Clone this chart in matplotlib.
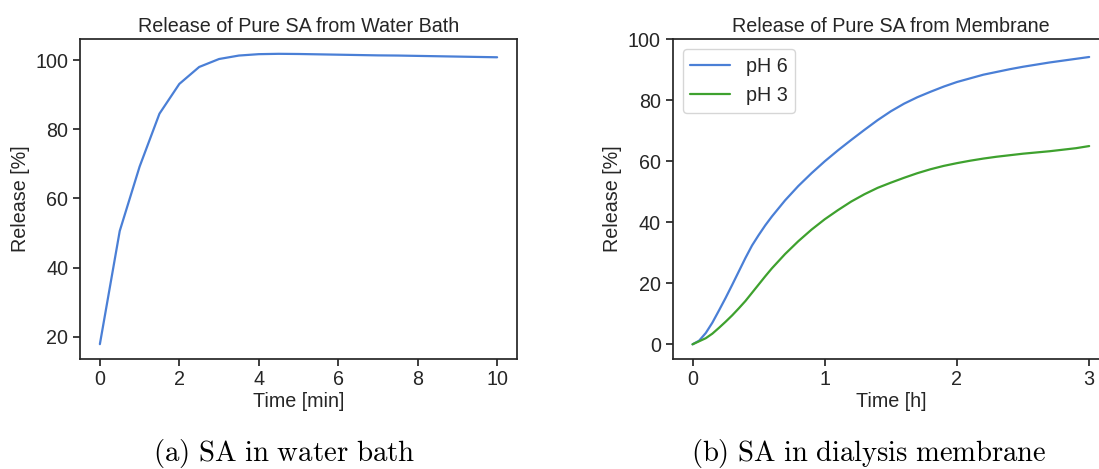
import matplotlib
matplotlib.use('Agg')
import matplotlib.pyplot as plt
import seaborn as sns

# Water bath release, sampled every half minute
bath_time_min = [0, 0.5, 1, 1.5, 2, 2.5, 3, 3.5, 4, 4.5, 5, 5.5, 6, 6.5,
                 7, 7.5, 8, 8.5, 9, 9.5, 10]
bath_release = [17.9, 50.6, 69.2, 84.5, 93.1, 98.0, 100.3, 101.3, 101.7, 101.8,
                101.75, 101.65, 101.55, 101.45, 101.35, 101.3, 101.2, 101.1,
                101.0, 100.9, 100.8]

# Dialysis membrane release, pH 6 and pH 3
membrane_time_h = [0.0, 0.05, 0.1, 0.15, 0.2, 0.25, 0.3, 0.35, 0.4, 0.45, 0.5,
                   0.55, 0.6, 0.7, 0.8, 0.9, 1.0,
                   1.1, 1.2, 1.3, 1.4, 1.5, 1.6, 1.7, 1.8, 1.9, 2.0,
                   2.1, 2.2, 2.3, 2.4, 2.5, 2.6, 2.7, 2.8, 2.9, 3.0]
release_ph6 = [0.0, 1.2, 3.7, 7.1, 11.1, 15.2, 19.5, 23.9, 28.3, 32.4, 35.8,
               39.0, 41.9, 47.2, 51.9, 56.1, 60.0,
               63.6, 67.0, 70.3, 73.5, 76.4, 78.9, 81.0, 82.8, 84.5, 86.0,
               87.2, 88.4, 89.3, 90.2, 91.0, 91.7, 92.4, 93.0, 93.6, 94.2]
release_ph3 = [0.0, 1.0, 2.0, 3.5, 5.4, 7.4, 9.5, 11.8, 14.2, 16.9, 19.6,
               22.3, 24.9, 29.6, 33.8, 37.6, 41.0,
               44.0, 46.8, 49.2, 51.3, 53.0, 54.6, 56.1, 57.4, 58.5, 59.4,
               60.2, 60.9, 61.5, 62.0, 62.5, 62.9, 63.3, 63.8, 64.3, 65.0]

sns.set_theme(style='ticks')
plt.rcParams['font.family'] = ['Liberation Sans', 'DejaVu Sans']
plt.rcParams['mathtext.fontset'] = 'cm'

BLUE = '#4a7fd6'
GREEN = '#3ea12e'
FS = 14.2

fig = plt.figure(figsize=(10.99, 4.69), dpi=100)
ax_a = fig.add_axes([0.0728, 0.2352, 0.3976, 0.681])
ax_b = fig.add_axes([0.6121, 0.2352, 0.3970, 0.681])

ax_a.plot(bath_time_min, bath_release, color=BLUE, lw=1.6)
ax_a.set_title('Release of Pure SA from Water Bath', fontsize=FS, pad=5)
ax_a.set_xlabel('Time [min]', fontsize=FS, labelpad=2)
ax_a.set_ylabel('Release [%]', fontsize=FS)
ax_a.set_yticks([20, 40, 60, 80, 100])

ax_b.plot(membrane_time_h, release_ph6, color=BLUE, lw=1.6, label='pH 6')
ax_b.plot(membrane_time_h, release_ph3, color=GREEN, lw=1.6, label='pH 3')
ax_b.set_ylim(top=100)
ax_b.set_xticks([0, 1, 2, 3])
ax_b.set_title('Release of Pure SA from Membrane', fontsize=FS, pad=5)
ax_b.set_xlabel('Time [h]', fontsize=FS, labelpad=2)
ax_b.set_ylabel('Release [%]', fontsize=FS)
ax_b.legend(loc='upper left', fontsize=FS, frameon=True)

for ax in (ax_a, ax_b):
    ax.tick_params(labelsize=FS, length=5, width=1.25, pad=3.5)
    for sp in ax.spines.values():
        sp.set_linewidth(1.25)

# Sub-figure captions under each panel
fig.text(284 / 1099, 1 - 461 / 469, r'$\mathrm{(a)\ SA\ in\ water\ bath}$',
         ha='center', va='baseline', fontsize=20.8, color='black')
fig.text(869 / 1099, 1 - 461 / 469, r'$\mathrm{(b)\ SA\ in\ dialysis\ membrane}$',
         ha='center', va='baseline', fontsize=20.6, color='black')

fig.savefig('out.png', dpi=100)
